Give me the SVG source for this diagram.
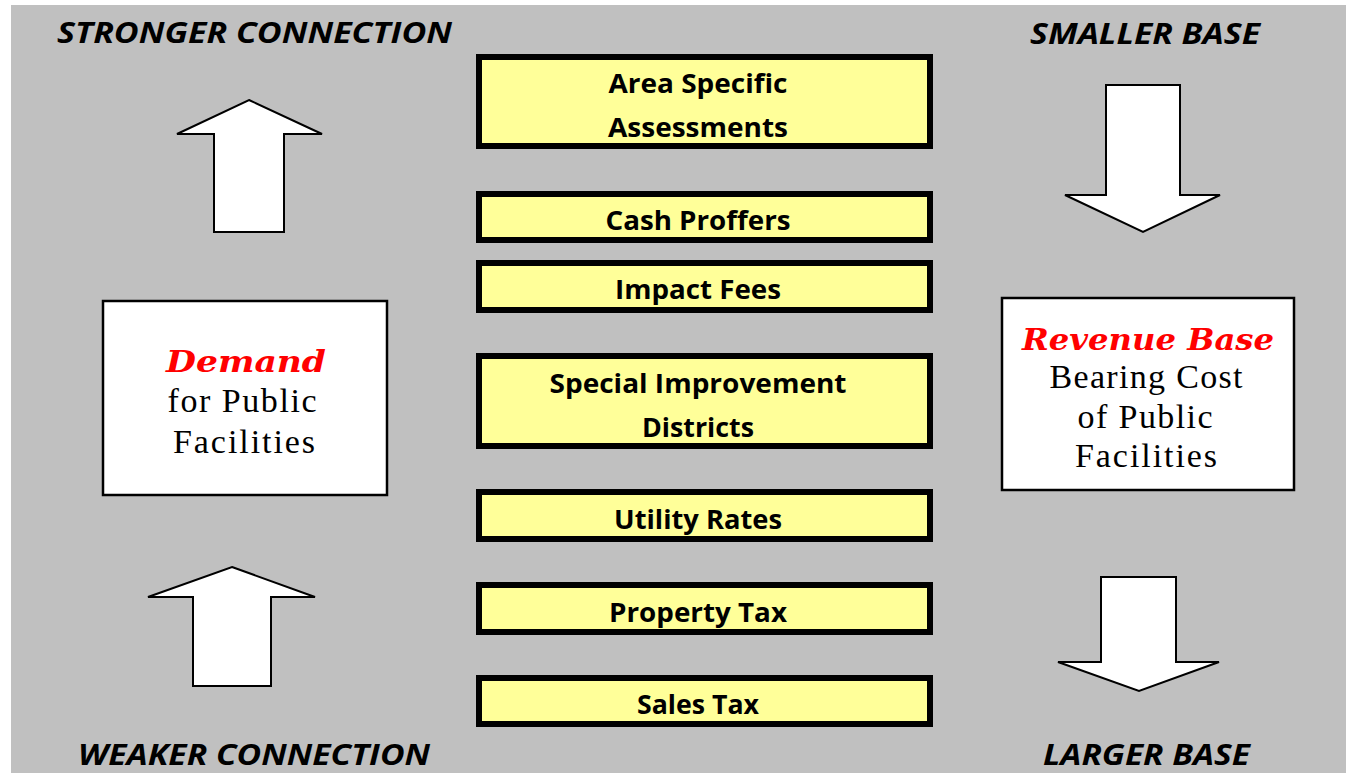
<svg xmlns="http://www.w3.org/2000/svg" width="1346" height="773" viewBox="0 0 1346 773">
  <style>
    .bg { fill: #c0c0c0; }
    .bar { fill: #ffff99; stroke: #000; stroke-width: 6; }
    .bar-text { font-family: "Open Sans", "Liberation Sans", Arial, sans-serif; font-weight: bold; font-size: 27px; fill: #000; text-anchor: middle; }
    .heading { font-family: "Open Sans", "Liberation Sans", Arial, sans-serif; font-weight: bold; font-style: italic; font-size: 29px; fill: #000; }
    .panel { fill: #fff; stroke: #000; stroke-width: 2.5; }
    .panel-title { font-family: "DejaVu Serif", "Liberation Serif", serif; font-weight: bold; font-style: italic; font-size: 30px; fill: #ff0000; text-anchor: middle; }
    .panel-text { font-family: "Liberation Serif", "Times New Roman", serif; font-size: 34px; fill: #000; text-anchor: middle; }
    .big-arrow { fill: #fff; stroke: #000; stroke-width: 2; stroke-linejoin: miter; }
  </style>

  <!-- backdrop -->
  <rect class="bg" x="11" y="5" width="1335" height="768"/>

  <!-- corner captions -->
  <text class="heading" x="57" y="43" textLength="395" lengthAdjust="spacingAndGlyphs">STRONGER CONNECTION</text>
  <text class="heading" x="1030" y="44" textLength="230" lengthAdjust="spacingAndGlyphs">SMALLER BASE</text>
  <text class="heading" x="78" y="765" textLength="352" lengthAdjust="spacingAndGlyphs">WEAKER CONNECTION</text>
  <text class="heading" x="1043" y="765" textLength="207" lengthAdjust="spacingAndGlyphs">LARGER BASE</text>

  <!-- block arrows -->
  <g id="arrows">
    <polygon class="big-arrow" points="249,100 322,134 284,134 284,232 214,232 214,134 177,134"/>
    <polygon class="big-arrow" points="232,567 315,597 271,597 271,686 193,686 193,597 148,597"/>
    <polygon class="big-arrow" points="1106,85 1180,85 1180,195 1220,195 1143,232 1065,195 1106,195"/>
    <polygon class="big-arrow" points="1101,577 1176,577 1176,662 1219,662 1139,691 1058,662 1101,662"/>
  </g>

  <!-- demand panel -->
  <g id="demand">
    <rect class="panel" x="103" y="301" width="284" height="194"/>
    <text class="panel-title" x="246" y="372" textLength="160" lengthAdjust="spacingAndGlyphs">Demand</text>
    <text class="panel-text" x="242" y="412" textLength="149" lengthAdjust="spacing">for Public</text>
    <text class="panel-text" x="244" y="453" textLength="142" lengthAdjust="spacing">Facilities</text>
  </g>

  <!-- revenue base panel -->
  <g id="revenue-base">
    <rect class="panel" x="1002" y="298" width="292" height="192"/>
    <text class="panel-title" x="1148" y="350" textLength="252" lengthAdjust="spacingAndGlyphs">Revenue Base</text>
    <text class="panel-text" x="1146" y="388" textLength="193" lengthAdjust="spacing">Bearing Cost</text>
    <text class="panel-text" x="1145" y="428" textLength="135" lengthAdjust="spacing">of Public</text>
    <text class="panel-text" x="1146" y="467" textLength="142" lengthAdjust="spacing">Facilities</text>
  </g>

  <!-- funding tools, ordered by strength of connection -->
  <g id="area-specific-assessments">
    <rect class="bar" x="479" y="57" width="451" height="89"/>
    <text class="bar-text" x="698" y="93" textLength="179" lengthAdjust="spacingAndGlyphs">Area Specific</text>
    <text class="bar-text" x="698" y="137" textLength="180" lengthAdjust="spacingAndGlyphs">Assessments</text>
  </g>
  <g id="cash-proffers">
    <rect class="bar" x="479" y="194" width="451" height="46"/>
    <text class="bar-text" x="698" y="230" textLength="185" lengthAdjust="spacingAndGlyphs">Cash Proffers</text>
  </g>
  <g id="impact-fees">
    <rect class="bar" x="479" y="263" width="451" height="47"/>
    <text class="bar-text" x="698" y="299" textLength="166" lengthAdjust="spacingAndGlyphs">Impact Fees</text>
  </g>
  <g id="special-improvement-districts">
    <rect class="bar" x="479" y="356" width="451" height="90"/>
    <text class="bar-text" x="698" y="393" textLength="297" lengthAdjust="spacingAndGlyphs">Special Improvement</text>
    <text class="bar-text" x="698" y="437" textLength="112" lengthAdjust="spacingAndGlyphs">Districts</text>
  </g>
  <g id="utility-rates">
    <rect class="bar" x="479" y="492" width="451" height="47"/>
    <text class="bar-text" x="698" y="529" textLength="168" lengthAdjust="spacingAndGlyphs">Utility Rates</text>
  </g>
  <g id="property-tax">
    <rect class="bar" x="479" y="585" width="451" height="47"/>
    <text class="bar-text" x="698" y="622" textLength="178" lengthAdjust="spacingAndGlyphs">Property Tax</text>
  </g>
  <g id="sales-tax">
    <rect class="bar" x="479" y="678" width="451" height="46"/>
    <text class="bar-text" x="698" y="714" textLength="122" lengthAdjust="spacingAndGlyphs">Sales Tax</text>
  </g>
</svg>
